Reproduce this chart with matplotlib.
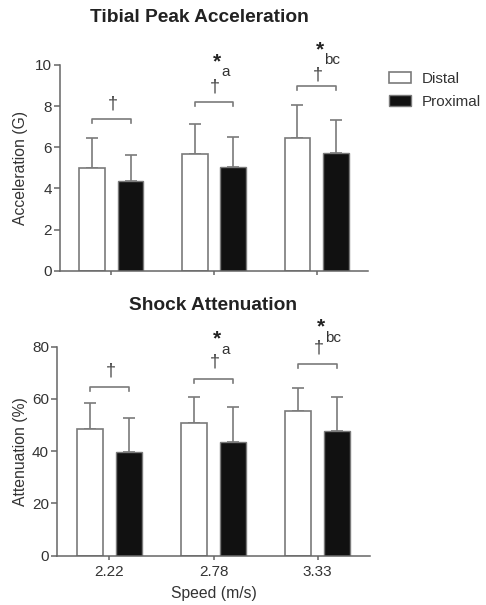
import matplotlib
matplotlib.use("Agg")
import matplotlib.pyplot as plt
import numpy as np
from matplotlib.patches import Patch

plt.rcParams['font.family'] = ['Liberation Sans', 'DejaVu Sans']

speeds = ["2.22", "2.78", "3.33"]
series = ["Distal", "Proximal"]

acc_distal = [5.0, 5.67, 6.43]
acc_distal_sd = [1.43, 1.48, 1.60]
acc_prox = [4.37, 5.03, 5.72]
acc_prox_sd = [1.26, 1.47, 1.62]

att_distal = [48.4, 50.7, 55.2]
att_distal_sd = [10.0, 10.2, 8.9]
att_prox = [39.6, 43.4, 47.8]
att_prox_sd = [13.0, 13.6, 13.1]

# significance annotations
dagger_labels = ["\u2020", "\u2020", "\u2020"]
star_subs = ["", "a", "bc"]
acc_bracket = [7.37, 8.19, 9.0]
acc_dagger = [8.09, 8.95, 9.52]
acc_star = [None, 10.17, 10.74]
acc_sub = [None, 9.68, 10.22]
att_bracket = [64.7, 67.7, 73.4]
att_dagger = [70.5, 74.3, 79.5]
att_star = [None, 82.9, 87.5]
att_sub = [None, 78.8, 83.5]

line_c = '#7a7a7a'
text_c = '#333333'

fig = plt.figure(figsize=(4.86, 6.05), dpi=100)
ax1 = fig.add_axes([0.1235, 0.5526, 0.6335, 0.34])
ax2 = fig.add_axes([0.118, 0.0815, 0.643, 0.3455])

x = np.arange(len(speeds))
off = 0.1875
w = 0.25


def draw(ax, d, dsd, p, psd, ylim, yticks, bracket, dag, star, sub, drop):
    ax.bar(x - off, d, w, color='white', edgecolor=line_c, linewidth=1.2, zorder=2)
    ax.bar(x + off, p, w, color='#111111', edgecolor=line_c, linewidth=1.0, zorder=2)
    ax.errorbar(x - off, d, yerr=[np.zeros(3), dsd], fmt='none', ecolor=line_c,
                elinewidth=1.2, capsize=4.5, capthick=1.2, zorder=1)
    ax.errorbar(x + off, p, yerr=[np.zeros(3), psd], fmt='none', ecolor=line_c,
                elinewidth=1.2, capsize=4.5, capthick=1.2, zorder=1)
    for i in range(3):
        bx = [x[i] - off, x[i] - off, x[i] + off, x[i] + off]
        by = [bracket[i] - drop, bracket[i], bracket[i], bracket[i] - drop]
        ax.plot(bx, by, color=line_c, lw=1.2, clip_on=False)
        ax.text(x[i] + 0.01, dag[i], dagger_labels[i], ha='center', va='center',
                fontsize=13, color='#444444', clip_on=False)
        if star[i] is not None:
            ax.text(x[i] + 0.03, star[i], "*", ha='center', va='center',
                    fontsize=15, fontweight='bold', color='#222222', clip_on=False)
            ax.text(x[i] + 0.07, sub[i], star_subs[i], ha='left', va='center',
                    fontsize=11, color=text_c, clip_on=False)
    ax.set_xlim(-0.5, 2.5)
    ax.set_ylim(*ylim)
    ax.set_yticks(yticks)
    ax.set_xticks(x)
    for s in ['top', 'right']:
        ax.spines[s].set_visible(False)
    for s in ['left', 'bottom']:
        ax.spines[s].set_color('#666666')
        ax.spines[s].set_linewidth(1.1)
    ax.tick_params(axis='y', length=4, width=1.1, color='#666666', labelsize=11,
                   labelcolor=text_c, pad=2)
    ax.tick_params(axis='x', length=3, width=1.1, color='#666666', labelsize=11,
                   labelcolor=text_c, pad=4)


draw(ax1, acc_distal, acc_distal_sd, acc_prox, acc_prox_sd, (0, 10), [0, 2, 4, 6, 8, 10],
     acc_bracket, acc_dagger, acc_star, acc_sub, 0.2)
draw(ax2, att_distal, att_distal_sd, att_prox, att_prox_sd, (0, 80), [0, 20, 40, 60, 80],
     att_bracket, att_dagger, att_star, att_sub, 1.6)

ax1.set_xticklabels([])
ax2.set_xticklabels(speeds)
ax1.set_ylabel("Acceleration (G)", fontsize=11.3, color=text_c, labelpad=5)
ax2.set_ylabel("Attenuation (%)", fontsize=11.3, color=text_c, labelpad=3)
ax2.set_xlabel("Speed (m/s)", fontsize=11.3, color=text_c, labelpad=5)

fig.text(199 / 486, 1 - 17 / 605, "Tibial Peak Acceleration", ha='center', va='center',
         fontsize=13.8, fontweight='bold', color='#222222')
fig.text(213 / 486, 1 - 305 / 605, "Shock Attenuation", ha='center', va='center',
         fontsize=13.8, fontweight='bold', color='#222222')

handles = [Patch(facecolor='white', edgecolor=line_c, linewidth=1.2),
           Patch(facecolor='#111111', edgecolor=line_c, linewidth=1.0)]
fig.legend(handles, series, loc='upper left', bbox_to_anchor=(389 / 486, 1 - 72 / 605),
           frameon=False, fontsize=11, handlelength=1.45, handleheight=0.75,
           labelcolor=text_c, labelspacing=0.6, handletextpad=0.7,
           borderpad=0, borderaxespad=0)

fig.savefig("out.png", dpi=100)
